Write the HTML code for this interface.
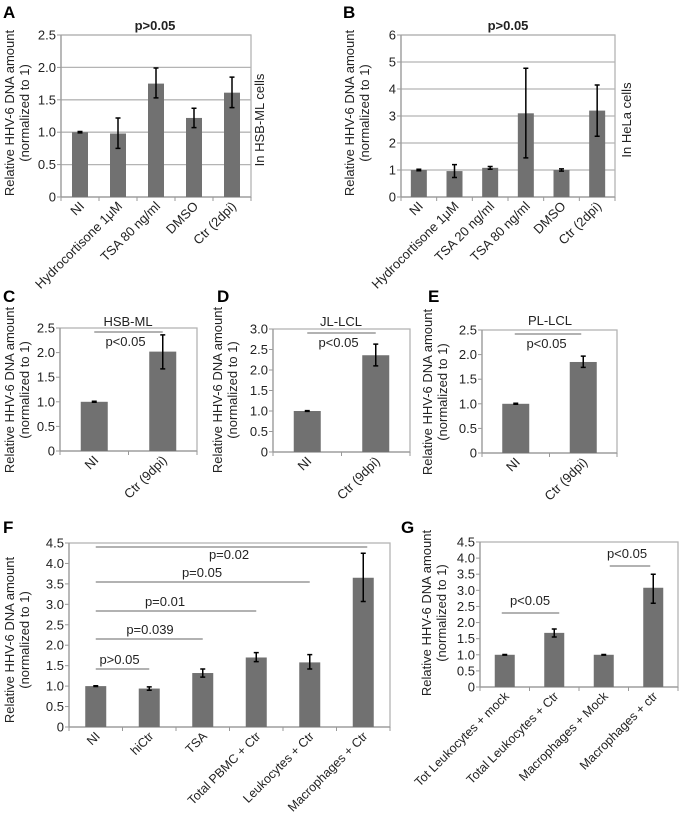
<!DOCTYPE html>
<html><head><meta charset="utf-8"><style>
html,body{margin:0;padding:0;background:#fff}
svg{display:block;font-family:"Liberation Sans",Arial,sans-serif}
</style></head><body>
<svg id="fig" width="683" height="816" viewBox="0 0 683 816"></svg>
<script>
// Panel A
const catsA=["NI","Hydrocortisone 1\u03bcM","TSA 80 ng/ml","DMSO","Ctr (2dpi)"];
const valsA=[1.0,0.98,1.75,1.22,1.61];
const loA=[0.99,0.75,1.53,1.07,1.38];
const hiA=[1.01,1.22,1.99,1.37,1.85];
const ticksA=["0","0.5","1.0","1.5","2.0","2.5"];
// Panel B
const catsB=["NI","Hydrocortisone 1\u03bcM","TSA 20 ng/ml","TSA 80 ng/ml","DMSO","Ctr (2dpi)"];
const valsB=[1.0,0.96,1.08,3.1,1.0,3.2];
const loB=[0.97,0.72,1.03,1.45,0.96,2.25];
const hiB=[1.03,1.2,1.13,4.77,1.04,4.15];
const ticksB=["0","1","2","3","4","5","6"];
// Panel C
const catsC=["NI","Ctr (9dpi)"];
const valsC=[1.0,2.02];
const loC=[0.99,1.67];
const hiC=[1.01,2.36];
const ticksC=["0","0.5","1.0","1.5","2.0","2.5"];
// Panel D
const catsD=["NI","Ctr (9dpi)"];
const valsD=[1.0,2.36];
const loD=[0.99,2.1];
const hiD=[1.01,2.63];
const ticksD=["0","0.5","1.0","1.5","2.0","2.5","3.0"];
// Panel E
const catsE=["NI","Ctr (9dpi)"];
const valsE=[1.0,1.85];
const loE=[0.99,1.74];
const hiE=[1.01,1.97];
const ticksE=["0","0.5","1.0","1.5","2.0","2.5"];
// Panel F
const catsF=["NI","hiCtr","TSA","Total PBMC + Ctr","Leukocytes + Ctr","Macrophages + Ctr"];
const valsF=[1.0,0.94,1.32,1.7,1.58,3.65];
const loF=[0.99,0.9,1.22,1.6,1.42,3.07];
const hiF=[1.01,0.98,1.42,1.82,1.77,4.25];
const ticksF=["0","0.5","1.0","1.5","2.0","2.5","3.0","3.5","4.0","4.5"];
// Panel G
const catsG=["Tot Leukocytes + mock","Total Leukocytes + Ctr","Macrophages + Mock","Macrophages + ctr"];
const valsG=[1.0,1.68,1.0,3.08];
const loG=[0.99,1.55,0.99,2.6];
const hiG=[1.01,1.8,1.01,3.5];
const ticksG=["0","0.5","1.0","1.5","2.0","2.5","3.0","3.5","4.0","4.5"];

const NS="http://www.w3.org/2000/svg";
const svg=document.getElementById('fig');
function mk(tag,attrs,parent,txt){const e=document.createElementNS(NS,tag);for(const k in attrs)e.setAttribute(k,attrs[k]);if(txt!==undefined)e.textContent=txt;(parent||svg).appendChild(e);return e;}

function panel(o){
  const g=mk('g',{});
  
  
  const n=o.cats.length, w=(o.right-o.left)/n;
  const y=v=>o.bottom-v/o.max*(o.bottom-o.top);
  const x=i=>o.left+w*(i+0.5);
  const step=o.max/(o.ticks.length-1);
  o.ticks.forEach((t,i)=>{
    const yy=y(i*step);
    if(o.grid&&i>0){const l=mk('line',{x1:o.left,x2:o.right,y1:yy,y2:yy,stroke:'#b4b4b4','stroke-width':1.3},g);}
    mk('line',{x1:o.left-4,x2:o.left,y1:yy,y2:yy,stroke:'#999','stroke-width':1},g);
    const tl=mk('text',{x:o.left-5,y:yy+4.5,'text-anchor':'end','font-size':13,fill:'#222'},g,t);
    
  });
  if(o.box){const b=mk('rect',{x:o.left,y:o.top,width:o.right-o.left,height:o.bottom-o.top,fill:'none',stroke:'#b4b4b4','stroke-width':1.3},g);}
  mk('line',{x1:o.left,x2:o.left,y1:o.top,y2:o.bottom,stroke:'#999','stroke-width':1.2},g);
  mk('line',{x1:o.left,x2:o.right,y1:o.bottom,y2:o.bottom,stroke:'#999','stroke-width':1.2},g);
  for(let i=0;i<=n;i++){mk('line',{x1:o.left+w*i,x2:o.left+w*i,y1:o.bottom,y2:o.bottom+4,stroke:'#999','stroke-width':1},g);}
  o.vals.forEach((v,i)=>{
    const r=mk('rect',{x:x(i)-o.bw/2,y:y(v),width:o.bw,height:o.bottom-y(v),fill:'#717171'},g);
    
    const cx=x(i),y1=y(o.lo[i]),y2=y(o.hi[i]);
    const e=mk('path',{d:`M${cx},${y1}V${y2}M${cx-2.5},${y1}H${cx+2.5}M${cx-2.5},${y2}H${cx+2.5}`,stroke:'#000','stroke-width':1.5,fill:'none'},g);
    
    const lx=cx+5,ly=o.bottom+10;
    const t=mk('text',{x:lx,y:ly,'text-anchor':'end','font-size':o.xfs||13,fill:'#222',transform:`rotate(-45 ${lx} ${ly})`},g,o.cats[i]);
    
  });
  const cy=o.ycy;
  const t1=mk('text',{x:o.yx,y:cy,'text-anchor':'middle','font-size':13,fill:'#222',transform:`rotate(-90 ${o.yx} ${cy})`},g,'Relative HHV-6 DNA amount');
  
  const t2=mk('text',{x:o.yx+15,y:cy,'text-anchor':'middle','font-size':13,fill:'#222',transform:`rotate(-90 ${o.yx+15} ${cy})`},g,'(normalized to 1)');
  
  const L=mk('text',{x:o.lx,y:o.ly,'font-size':17,'font-weight':'bold',fill:'#000'},g,o.id);
  
  return {g,x,y};
}
function sig(p,g,x1,x2,yy,txt,tx,ty,bold){
  const l=mk('line',{x1,x2,y1:yy,y2:yy,stroke:'#999','stroke-width':1.5},g);
  
  if(txt){const t=mk('text',{x:tx,y:ty,'text-anchor':'middle','font-size':13,'font-weight':bold?'bold':'normal',fill:'#222'},g,txt);}
}
function txt(g,x,y,s,name,opts){const t=mk('text',Object.assign({x,y,'text-anchor':'middle','font-size':13,fill:'#222'},opts||{}),g,s);return t;}

// A
let P=panel({id:'A',cats:catsA,vals:valsA,lo:loA,hi:hiA,ticks:ticksA,max:2.5,left:61,right:251,top:35,bottom:197,bw:16,grid:true,box:true,yx:14,ycy:113,lx:3,ly:18});
txt(P.g,155,30,'p>0.05','panel-title',{'font-weight':'bold','font-size':13});
txt(P.g,264,120,'In HSB-ML cells','side-label',{transform:'rotate(-90 264 120)'});
// B
P=panel({id:'B',cats:catsB,vals:valsB,lo:loB,hi:hiB,ticks:ticksB,max:6,left:401,right:615,top:35,bottom:197,bw:16,grid:true,box:true,yx:354,ycy:113,lx:343,ly:18});
txt(P.g,508,30,'p>0.05','panel-title',{'font-weight':'bold','font-size':13});
txt(P.g,631,120,'In HeLa cells','side-label',{transform:'rotate(-90 631 120)'});
// C
P=panel({id:'C',cats:catsC,vals:valsC,lo:loC,hi:hiC,ticks:ticksC,max:2.5,left:60,right:197,top:328,bottom:451,bw:27,grid:false,box:true,yx:14,ycy:390,lx:3,ly:302});
txt(P.g,128,326,'HSB-ML','panel-title');
sig(P,P.g,P.x(0),P.x(1),332,'p<0.05',P.x(0.5)-3,346);
// D
P=panel({id:'D',cats:catsD,vals:valsD,lo:loD,hi:hiD,ticks:ticksD,max:3,left:273,right:410,top:329,bottom:452,bw:27,grid:false,box:true,yx:222,ycy:390,lx:217,ly:302});
txt(P.g,341,326,'JL-LCL','panel-title');
sig(P,P.g,P.x(0),P.x(1),333,'p<0.05',P.x(0.5)-3,347);
// E
P=panel({id:'E',cats:catsE,vals:valsE,lo:loE,hi:hiE,ticks:ticksE,max:2.5,left:482,right:617,top:330,bottom:453,bw:27,grid:false,box:true,yx:432,ycy:392,lx:428,ly:302});
txt(P.g,550,325,'PL-LCL','panel-title');
sig(P,P.g,P.x(0)-1,P.x(1)-2,334,'p<0.05',P.x(0.5)-3,348);
// F
P=panel({id:'F',cats:catsF,vals:valsF,lo:loF,hi:hiF,ticks:ticksF,max:4.5,left:69,right:390,top:543,bottom:727,bw:21,grid:false,box:true,yx:14,ycy:640,lx:3,ly:533,xfs:12.5});
sig(P,P.g,P.x(0),P.x(1),669,'p>0.05',P.x(0.5)-3,664);
sig(P,P.g,P.x(0),P.x(2),639,'p=0.039',150,634);
sig(P,P.g,P.x(0),P.x(3),611,'p=0.01',165,606);
sig(P,P.g,P.x(0),P.x(4),582,'p=0.05',202,577);
sig(P,P.g,P.x(0),P.x(5)+4,547,'p=0.02',229,559);
// G
P=panel({id:'G',cats:catsG,vals:valsG,lo:loG,hi:hiG,ticks:ticksG,max:4.5,left:480,right:678,top:542,bottom:687,bw:20,grid:false,box:true,yx:431,ycy:613,lx:401,ly:533,xfs:12.5});
sig(P,P.g,P.x(0)-3,P.x(1)+5,613,'p<0.05',530,605);
sig(P,P.g,P.x(2)+6,P.x(3)-3,566,'p<0.05',627,558);
</script>
</body></html>
